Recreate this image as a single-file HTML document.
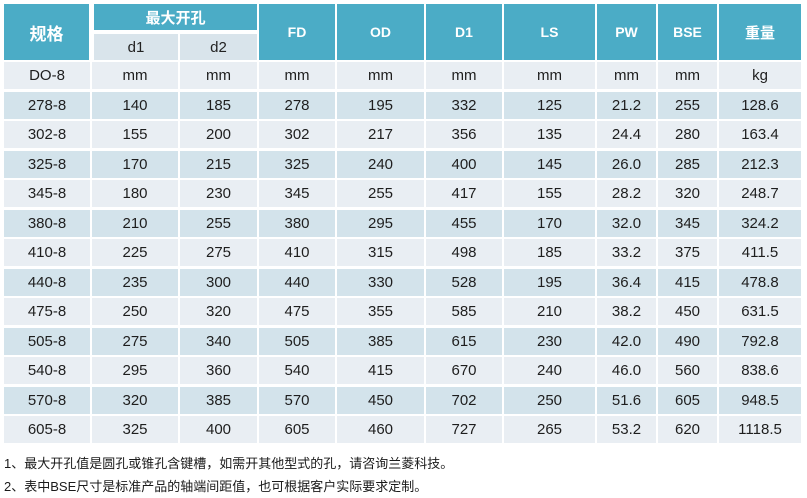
<!DOCTYPE html>
<html><head><meta charset="utf-8">
<style>
html,body{margin:0;padding:0;background:#fff;}
body{width:807px;height:498px;position:relative;overflow:hidden;font-family:"Liberation Sans","Noto Sans CJK SC",sans-serif;}
.c{position:absolute;display:flex;align-items:center;justify-content:center;box-sizing:border-box;}
.h{background:#4BACC6;color:#fff;font-weight:bold;font-size:14px;}
.s{background:#D9E4EB;color:#222;font-size:15px;}
.l{background:#E9EEF3;color:#1e1e1e;font-size:15px;}
.d{background:#D3E3EB;color:#1e1e1e;font-size:15px;}
.n{position:absolute;left:4px;font-size:13px;color:#1a1a1a;font-family:"Liberation Sans","Noto Sans CJK SC",sans-serif;white-space:nowrap;}
</style></head><body>
<div class="c h" style="left:4px;top:4px;width:85px;height:56px;font-size:17px;">规格</div>
<div class="c h" style="left:94px;top:4px;width:163px;height:26px;font-size:15px;">最大开孔</div>
<div class="c s" style="left:94px;top:34px;width:84px;height:26px;">d1</div>
<div class="c s" style="left:180px;top:34px;width:77px;height:26px;">d2</div>
<div class="c h" style="left:259px;top:4px;width:76px;height:56px;">FD</div>
<div class="c h" style="left:337px;top:4px;width:87px;height:56px;">OD</div>
<div class="c h" style="left:426px;top:4px;width:76px;height:56px;">D1</div>
<div class="c h" style="left:504px;top:4px;width:91px;height:56px;">LS</div>
<div class="c h" style="left:597px;top:4px;width:59px;height:56px;">PW</div>
<div class="c h" style="left:658px;top:4px;width:59px;height:56px;">BSE</div>
<div class="c h" style="left:719px;top:4px;width:82px;height:56px;font-size:15px;">重量</div>
<div id="rows"></div>
<script>
var X=[4,92,180,259,337,426,504,597,658,719],W=[86,86,77,76,87,76,91,59,59,82];
var R=[["DO-8","mm","mm","mm","mm","mm","mm","mm","mm","kg"],
["278-8","140","185","278","195","332","125","21.2","255","128.6"],
["302-8","155","200","302","217","356","135","24.4","280","163.4"],
["325-8","170","215","325","240","400","145","26.0","285","212.3"],
["345-8","180","230","345","255","417","155","28.2","320","248.7"],
["380-8","210","255","380","295","455","170","32.0","345","324.2"],
["410-8","225","275","410","315","498","185","33.2","375","411.5"],
["440-8","235","300","440","330","528","195","36.4","415","478.8"],
["475-8","250","320","475","355","585","210","38.2","450","631.5"],
["505-8","275","340","505","385","615","230","42.0","490","792.8"],
["540-8","295","360","540","415","670","240","46.0","560","838.6"],
["570-8","320","385","570","450","702","250","51.6","605","948.5"],
["605-8","325","400","605","460","727","265","53.2","620","1118.5"]];
var h="";
for(var k=0;k<R.length;k++){var t=62+29.5*k;var cls=(k%2==0)?"l":"d";
for(var j=0;j<10;j++){h+='<div class="c '+cls+'" style="left:'+X[j]+'px;top:'+t+'px;width:'+W[j]+'px;height:27px;">'+R[k][j]+'</div>';}}
document.getElementById("rows").innerHTML=h;
</script>
<div class="n" style="top:453px;">1、最大开孔值是圆孔或锥孔含键槽，如需开其他型式的孔，请咨询兰菱科技。</div>
<div class="n" style="top:476px;">2、表中BSE尺寸是标准产品的轴端间距值，也可根据客户实际要求定制。</div>
</body></html>
